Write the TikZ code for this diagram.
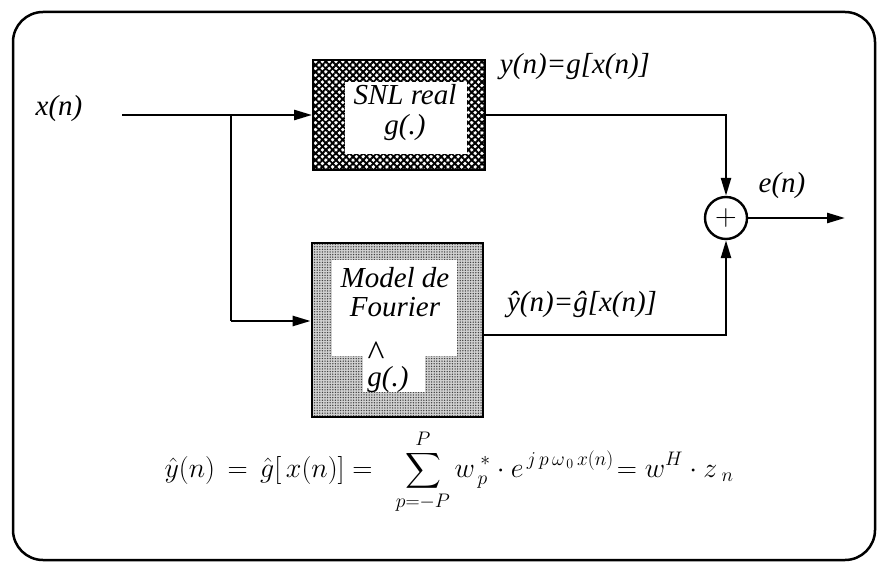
\RequirePackage{fix-cm}
\documentclass[tikz,border=0pt]{standalone}
\usepackage{exscale}
\usepackage{fontspec}
\setmainfont{Liberation Serif}
\usetikzlibrary{patterns.meta,arrows.meta}
\tikzset{
  lbl/.style={font=\fontsize{29}{31}\selectfont\itshape, inner sep=0pt},
  wire/.style={line width=2.5pt},
  arr/.style={wire, -{Triangle[length=18pt,width=10pt]}},
  snlbox/.style={draw, line width=2.8pt, minimum width=172pt, minimum height=110pt,
    fill=white,
    preaction={pattern={Lines[angle=45,distance=4.8pt,line width=1.9pt]}},
    pattern={Lines[angle=-45,distance=4.8pt,line width=1.9pt]},
    path picture={\fill[white] ([shift={(32,22)}]path picture bounding box.north west)
        rectangle ([shift={(-18,-16)}]path picture bounding box.south east);}},
  fourbox/.style={draw, line width=2.8pt, minimum width=171pt, minimum height=174pt,
    preaction={fill=black!18},
    pattern={Dots[distance=2.6pt,radius=0.75pt]}, pattern color=black!75,
    path picture={\fill[white] ([shift={(20,17)}]path picture bounding box.north west)
        rectangle ([shift={(-26,113)}]path picture bounding box.north east);
      \fill[white] ([shift={(51,100)}]path picture bounding box.north west)
        rectangle ([shift={(-58,-25)}]path picture bounding box.south east);}},
  sumnode/.style={draw, circle, line width=2.4pt, minimum size=42pt, inner sep=0pt,
    font=\fontsize{30}{30}\selectfont}
}
\begin{document}
\begin{tikzpicture}[x=1pt,y=-1pt]
\useasboundingbox (0,0) rectangle (878,564);
\draw[line width=2.5pt, rounded corners=30pt] (13,12) rectangle (875,560);

\node[snlbox] (snl) at (399,115) {};
\node[fourbox] (four) at (397.5,330) {};
\node[sumnode] (sum) at (726,218) {$+$};

\node[lbl] (t1) at (405,95) {SNL real};
\node[lbl] (t2) at (405,128) {g(.)};
\node[lbl] (t3) at (395,278) {Model de};
\node[lbl] (t4) at (395,307) {Fourier};
\node[lbl, font=\fontsize{36}{36}\selectfont] (t5) at (376,354) {\textasciicircum};
\node[lbl] (t6) at (388,380) {g(.)};

\node[lbl] (xn) at (59,109) {x(n)};
\node[lbl] (yn) at (575,67) {y(n)=g[x(n)]};
\node[lbl] (en) at (782,186) {e(n)};
\node[lbl] (yh) at (582,305) {ŷ(n)=ĝ[x(n)]};

\coordinate (in) at (122,115);
\coordinate (br) at (231,115);
\coordinate (out) at (845,218);

\draw[arr] (in) -- (snl.west);
\draw[wire] (br) -- (231,321);
\draw[arr] (231,321) -- ([yshift=9pt]four.west);
\draw[arr] (snl.east) -| (sum.north);
\draw[arr] ([yshift=-5pt]four.east) -| (sum.south);
\draw[arr] (sum.east) -- (out);

\node[font=\fontsize{28}{30}\selectfont, inner sep=0pt] (eq) at (449,472)
  {$\hat{y}(n)\,=\,\hat{g}[\,x(n)]=\;\;\displaystyle\sum_{p=-P}^{P} w_{\,p}^{\;*}\cdot e^{\,j\,p\,\omega_{\,0}\,x(n)}\!=w^{H}\cdot z_{\;n}$};
\end{tikzpicture}
\end{document}
